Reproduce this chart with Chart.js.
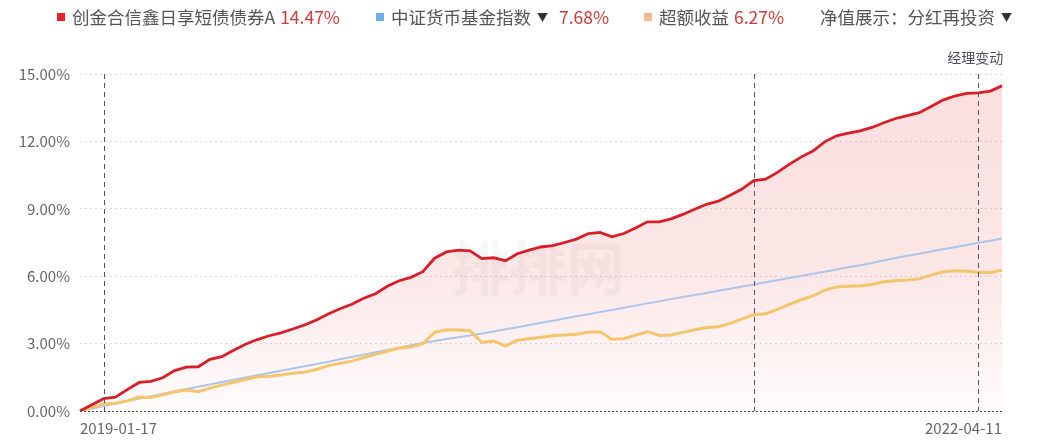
<!DOCTYPE html>
<html>
<head>
<meta charset="utf-8">
<script src="https://cdn.jsdelivr.net/npm/chart.js@4/dist/chart.umd.min.js"></script>
<style>
    html, body { margin: 0; padding: 0; background: #fff; }
    #wrap { position: relative; width: 1052px; height: 441px; overflow: hidden; }
    #chart { position: absolute; left: 0; top: 0; }
    .legend { position: absolute; top: 6px; font-family: "Noto Sans CJK SC", "Noto Sans", sans-serif; font-size: 17.5px; color: #555; white-space: nowrap; line-height: 22px; }
    .legend .sq { display: inline-block; width: 8px; height: 8px; margin-right: 7px; vertical-align: 3px; }
    .legend .pct { color: #cc3b3b; margin-left: 5px; }
    .legend .arr { font-size: 11px; color: #333; margin-left: 6px; vertical-align: 2px; }
</style>
</head>
<body>
<div id="wrap">
    <canvas id="chart" width="1052" height="441"></canvas>
    <div class="legend" style="left:57px"><span class="sq" style="background:#e8212b"></span>创金合信鑫日享短债债券A<span class="pct">14.47%</span></div>
    <div class="legend" style="left:376px"><span class="sq" style="background:#6eaef0"></span>中证货币基金指数<span class="arr">▼</span><span class="pct" style="margin-left:11px">7.68%</span></div>
    <div class="legend" style="left:644px"><span class="sq" style="background:#f5b98b"></span>超额收益<span class="pct">6.27%</span></div>
    <div class="legend" style="left:820px">净值展示：分红再投资<span class="arr">▼</span></div>
</div>
<script>
// 日期（半月采样）
const dates = [
    '2019-01-17', '2019-02-01', '2019-02-16', '2019-03-01', '2019-03-16', '2019-04-01', '2019-04-16', '2019-05-01', '2019-05-16', '2019-06-01',
    '2019-06-16', '2019-07-01', '2019-07-16', '2019-08-01', '2019-08-16', '2019-09-01', '2019-09-16', '2019-10-01', '2019-10-16', '2019-11-01',
    '2019-11-16', '2019-12-01', '2019-12-16', '2020-01-01', '2020-01-16', '2020-02-01', '2020-02-16', '2020-03-01', '2020-03-16', '2020-04-01',
    '2020-04-16', '2020-05-01', '2020-05-16', '2020-06-01', '2020-06-16', '2020-07-01', '2020-07-16', '2020-08-01', '2020-08-16', '2020-09-01',
    '2020-09-16', '2020-10-01', '2020-10-16', '2020-11-01', '2020-11-16', '2020-12-01', '2020-12-16', '2021-01-01', '2021-01-16', '2021-02-01',
    '2021-02-16', '2021-03-01', '2021-03-16', '2021-04-01', '2021-04-16', '2021-05-01', '2021-05-16', '2021-06-01', '2021-06-16', '2021-07-01',
    '2021-07-16', '2021-08-01', '2021-08-16', '2021-09-01', '2021-09-16', '2021-10-01', '2021-10-16', '2021-11-01', '2021-11-16', '2021-12-01',
    '2021-12-16', '2022-01-01', '2022-01-16', '2022-02-01', '2022-02-16', '2022-03-01', '2022-03-16', '2022-04-01', '2022-04-11'
];

// 创金合信鑫日享短债债券A 累计收益 (%)
const fundReturn = [
    0, 0.28, 0.55, 0.62, 0.95, 1.27, 1.32, 1.48, 1.80, 1.95,
    1.97, 2.30, 2.42, 2.70, 2.97, 3.18, 3.35, 3.48, 3.65, 3.83,
    4.05, 4.32, 4.55, 4.75, 5.02, 5.22, 5.55, 5.80, 5.95, 6.20,
    6.80, 7.08, 7.16, 7.13, 6.78, 6.82, 6.69, 7.00, 7.16, 7.30,
    7.36, 7.50, 7.65, 7.90, 7.95, 7.75, 7.90, 8.15, 8.42, 8.42,
    8.55, 8.75, 8.98, 9.20, 9.34, 9.60, 9.88, 10.25, 10.32, 10.62,
    10.98, 11.30, 11.57, 11.98, 12.25, 12.37, 12.47, 12.62, 12.83, 13.02,
    13.15, 13.28, 13.55, 13.84, 14.02, 14.14, 14.16, 14.24, 14.47
];

// 中证货币基金指数 (%)
const indexReturn = [
    0, 0.10, 0.22, 0.33, 0.44, 0.55, 0.66, 0.77, 0.88, 0.98,
    1.08, 1.18, 1.29, 1.39, 1.49, 1.59, 1.69, 1.79, 1.89, 1.99,
    2.09, 2.19, 2.30, 2.40, 2.51, 2.62, 2.72, 2.82, 2.93, 3.03,
    3.12, 3.20, 3.28, 3.36, 3.45, 3.54, 3.64, 3.73, 3.83, 3.93,
    4.02, 4.12, 4.22, 4.31, 4.41, 4.50, 4.60, 4.69, 4.79, 4.88,
    4.98, 5.07, 5.16, 5.25, 5.35, 5.44, 5.54, 5.63, 5.73, 5.82,
    5.92, 6.01, 6.11, 6.20, 6.30, 6.40, 6.49, 6.59, 6.71, 6.81,
    6.91, 7.00, 7.10, 7.20, 7.29, 7.39, 7.49, 7.58, 7.68
];

// 超额收益 (%)
const excessReturn = [
    0, 0.15, 0.32, 0.35, 0.45, 0.62, 0.60, 0.72, 0.85, 0.93,
    0.86, 1.02, 1.15, 1.28, 1.40, 1.52, 1.55, 1.60, 1.68, 1.73,
    1.85, 2.02, 2.12, 2.22, 2.38, 2.52, 2.66, 2.80, 2.85, 3.00,
    3.50, 3.62, 3.60, 3.57, 3.05, 3.12, 2.89, 3.15, 3.22, 3.28,
    3.35, 3.38, 3.42, 3.50, 3.53, 3.19, 3.22, 3.38, 3.53, 3.36,
    3.38, 3.50, 3.62, 3.72, 3.75, 3.90, 4.10, 4.28, 4.33, 4.52,
    4.75, 4.95, 5.12, 5.38, 5.52, 5.55, 5.58, 5.63, 5.75, 5.80,
    5.83, 5.88, 6.05, 6.20, 6.24, 6.22, 6.18, 6.15, 6.27
];

// 经理变动日期
const managerChanges = ['2019-02-16', '2021-06-01', '2022-03-16'];

const yTicks = [0, 3, 6, 9, 12, 15];

// 自定义绘制：底部虚线、经理变动线、水印
const overlayPlugin = {
    id: 'overlay',
    beforeDatasetsDraw(chart) {
        const { ctx } = chart;
        ctx.save();
        ctx.font = 'bold 58px "Noto Sans CJK SC", sans-serif';
        ctx.fillStyle = 'rgba(120,120,120,0.06)';
        ctx.textAlign = 'center';
        ctx.textBaseline = 'middle';
        ctx.fillText('排排网', 538, 268);
        ctx.restore();
    },
    afterDatasetsDraw(chart) {
        const { ctx, chartArea, scales } = chart;
        const x = scales.x, y = scales.y;
        ctx.save();
        // 底部虚线
        ctx.strokeStyle = '#444';
        ctx.lineWidth = 1;
        ctx.setLineDash([2, 2]);
        ctx.beginPath();
        ctx.moveTo(chartArea.left, Math.round(y.getPixelForValue(0)) + 0.5);
        ctx.lineTo(chartArea.right, Math.round(y.getPixelForValue(0)) + 0.5);
        ctx.stroke();
        // 经理变动
        ctx.strokeStyle = '#50506a';
        ctx.setLineDash([5, 4]);
        managerChanges.forEach(d => {
            const px = Math.round(x.getPixelForValue(dates.indexOf(d))) + 0.5;
            ctx.beginPath();
            ctx.moveTo(px, chartArea.top);
            ctx.lineTo(px, chartArea.bottom);
            ctx.stroke();
        });
        const last = x.getPixelForValue(dates.indexOf(managerChanges[managerChanges.length - 1]));
        ctx.setLineDash([]);
        ctx.font = '14px "Noto Sans CJK SC", sans-serif';
        ctx.fillStyle = '#4d4d5c';
        ctx.textAlign = 'center';
        ctx.textBaseline = 'middle';
        ctx.fillText('经理变动', last - 3, 58);
        ctx.restore();
    }
};

new Chart(document.getElementById('chart'), {
    type: 'line',
    data: {
        labels: dates,
        datasets: [
            {
                label: '创金合信鑫日享短债债券A',
                data: fundReturn,
                borderColor: '#d91e28',
                borderWidth: 2.8,
                pointRadius: 0,
                fill: 'origin',
                backgroundColor: (context) => {
                    const area = context.chart.chartArea;
                    if (!area) return 'rgba(230,60,60,0.1)';
                    const g = context.chart.ctx.createLinearGradient(0, area.top, 0, area.bottom);
                    g.addColorStop(0, 'rgba(228,60,60,0.17)');
                    g.addColorStop(0.6, 'rgba(228,60,60,0.12)');
                    g.addColorStop(1, 'rgba(228,60,60,0.02)');
                    return g;
                },
                order: 0
            },
            {
                label: '超额收益',
                data: excessReturn,
                borderColor: '#f5c56b',
                borderWidth: 3,
                pointRadius: 0,
                fill: false,
                order: 1
            },
            {
                label: '中证货币基金指数',
                data: indexReturn,
                borderColor: '#adc5ea',
                borderWidth: 2,
                pointRadius: 0,
                fill: false,
                order: 2
            }
        ]
    },
    options: {
        responsive: false,
        animation: false,
        layout: { padding: { top: 74, right: 50, left: 0, bottom: 0 } },
        plugins: {
            legend: { display: false },
            tooltip: { enabled: false },
            filler: { drawTime: 'beforeDatasetsDraw' }
        },
        scales: {
            x: {
                grid: { display: false, drawTicks: false },
                border: { display: false },
                afterFit: (scale) => { scale.height = 30; },
                ticks: {
                    autoSkip: false,
                    maxRotation: 0,
                    align: 'inner',
                    padding: 8,
                    color: '#666',
                    font: { size: 15, family: '"Noto Sans CJK SC", "Noto Sans", sans-serif' },
                    callback: (v, i) => (i === 0 || i === dates.length - 1) ? dates[i] : ''
                }
            },
            y: {
                min: 0,
                max: 15,
                afterFit: (scale) => { scale.width = 80; },
                afterBuildTicks: (scale) => { scale.ticks = yTicks.map(v => ({ value: v })); },
                grid: { color: '#dcdcdc', drawTicks: false },
                border: { display: false, dash: [2, 3] },
                ticks: {
                    padding: 10,
                    color: '#666',
                    font: { size: 15, family: '"Noto Sans CJK SC", "Noto Sans", sans-serif' },
                    callback: (v) => v.toFixed(2) + '%'
                }
            }
        }
    },
    plugins: [overlayPlugin]
});
</script>
</body>
</html>
